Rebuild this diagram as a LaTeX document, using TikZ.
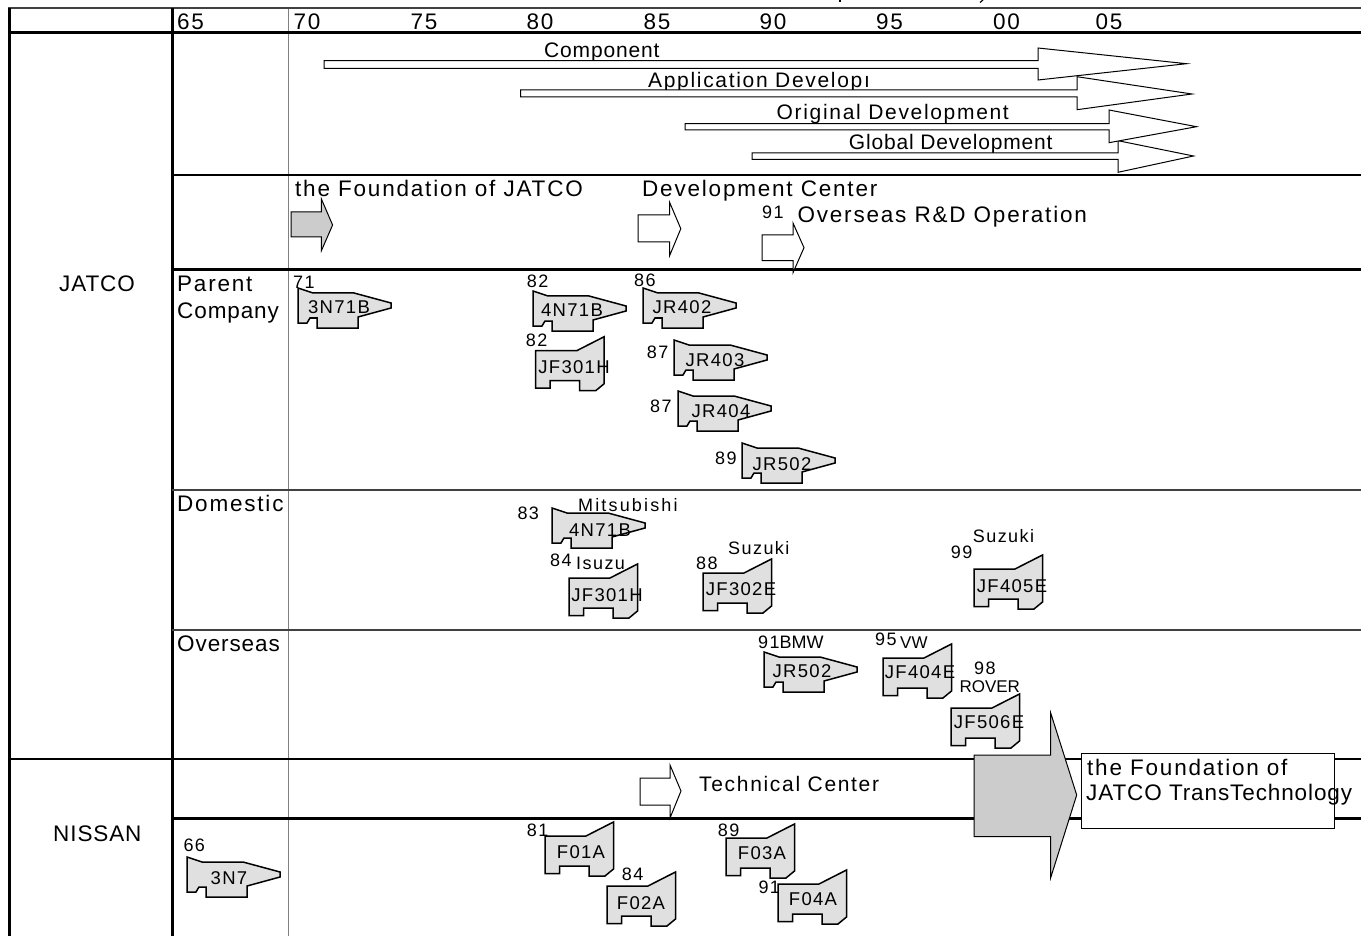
\documentclass[tikz,border=0pt]{standalone}
\usepackage{fontspec}
\setmainfont[LetterSpace=8]{Liberation Sans}
\newfontfamily\modelfont[LetterSpace=7]{Liberation Sans}
\newfontfamily\makerfont{Liberation Sans}
\newfontfamily\tightfont[LetterSpace=4]{Liberation Sans}
\newfontfamily\wideface[LetterSpace=12]{Liberation Sans}
\definecolor{caseGrey}{HTML}{E0E0E0}
\definecolor{arrowGrey}{HTML}{CCCCCC}
\definecolor{yearGrey}{HTML}{808080}
\definecolor{ruleGrey}{HTML}{404040}
\tikzset{
  every node/.style={inner sep=0pt, text=black},
  heavy/.style={line width=3pt},
  mid/.style={line width=2pt},
  light/.style={line width=1.4pt, ruleGrey},
  blockarrow/.style={draw=black, fill=white, line width=1pt},
  greyarrow/.style={draw=black, fill=arrowGrey, line width=1pt},
  big/.style={anchor=base west, font=\fontsize{22.5}{26}\selectfont},
  medium/.style={anchor=base west, font=\fontsize{21}{24}\selectfont},
  small/.style={anchor=base west, font=\fontsize{18}{20}\selectfont},
  maker/.style={anchor=base west, font=\makerfont\fontsize{17}{20}\selectfont},
  model/.style={font=\modelfont\fontsize{18.5}{20}\selectfont},
  rearcase/.pic={
    \draw[fill=caseGrey, line width=1.5pt] (0,0) -- (15,5) -- (56,5) -- (93,15) -- (93,20) -- (60,29) -- (60,40)
      -- (19,40) -- (19,30) -- (12,30) -- (9,35) -- (0,35) -- cycle;
  },
  frontcase/.pic={
    \draw[fill=caseGrey, line width=1.5pt] (0,0) -- (41,0) -- (68.5,-14) -- (68.5,33) -- (60,40) -- (44,40)
      -- (44,30) -- (14.5,30) -- (14.5,37.5) -- (0,37.5) -- cycle;
  },
}

\begin{document}
\begin{tikzpicture}[x=1pt, y=-1pt]

  %% ════ table rules ════
  \draw[yearGrey, line width=1.5pt] (288.5,8) -- (288.5,936);
  \draw[mid, ruleGrey] (8,8) -- (1361,8);
  \draw[heavy] (9.5,8) -- (9.5,936);
  \draw[heavy] (172.5,8) -- (172.5,936);
  \draw[heavy] (9,33) -- (1361,33);
  \draw[mid] (172,175.5) -- (1361,175.5);
  \draw[heavy] (172,270) -- (1361,270);
  \draw[light] (172,490) -- (1361,490);
  \draw[light] (172,630) -- (1361,630);
  \draw[mid] (9,759) -- (1361,759);
  \draw[heavy] (172,818) -- (1361,818);
  % tails of the cut-off title
  \draw[line width=1.2pt] (840,0) -- (840,2);
  \draw[line width=1.2pt] (980,2.5) -- (983,0);

  %% ════ header years ════
  \foreach \yearlabel/\xpos in {65/177, 70/293.5, 75/410.5, 80/526.5, 85/643.5, 90/759.5, 95/876, 00/993, 05/1095.5}
    \node[big] (year\yearlabel) at (\xpos,30) {\yearlabel};

  %% ════ row titles ════
  \node[big] (jatco) at (59,291.7) {\tightfont JATCO};
  \node[big] (nissan) at (53,841.5) {\tightfont NISSAN};
  \node[big] (parent) at (177,291.7) {Parent};
  \node[big] (company) at (177,318.3) {\tightfont Company};
  \node[big] (domestic) at (177,511) {Domestic};
  \node[big] (overseas) at (177,651) {\tightfont Overseas};

  %% ════ development bars ════
  \node[medium] (component) at (544,57.3) {\tightfont Component};
  \node[medium] (application) at (648,87.5) {Application Developı};
  \node[medium] (original) at (776.5,119.3) {Original Development};
  \node[medium] (global) at (848.7,150) {\tightfont Global Development};
  \draw[blockarrow] (752,153) -- (1118,153) -- (1118,140.7) -- (1193.5,156) -- (1118,172.3) -- (1118,159.3) -- (752,159.3) -- cycle;
  \draw[blockarrow] (685,123.7) -- (1109,123.7) -- (1109,110) -- (1196.5,126.7) -- (1109,142.7) -- (1109,130) -- (685,130) -- cycle;
  \draw[blockarrow] (520.5,90) -- (1077,90) -- (1077,76.7) -- (1192,94) -- (1077,109.7) -- (1077,97) -- (520.5,97) -- cycle;
  \draw[blockarrow] (324,60.7) -- (1038,60.7) -- (1038,48) -- (1186.5,63.7) -- (1038,80) -- (1038,68.3) -- (324,68.3) -- cycle;

  %% ════ milestones ════
  \draw[greyarrow] (291,212) -- (321.4,212) -- (321.4,199) -- (332.6,225) -- (321.4,250.7) -- (321.4,237) -- (291,237) -- cycle;
  \draw[blockarrow] (638,215) -- (669.6,215) -- (669.6,202.3) -- (680.8,228.7) -- (669.6,255.7) -- (669.6,242) -- (638,242) -- cycle;
  \draw[blockarrow] (762,235) -- (793,235) -- (793,223) -- (804,247.7) -- (793,272.7) -- (793,260.7) -- (762,260.7) -- cycle;
  \draw[blockarrow] (640,778) -- (670,778) -- (670,765) -- (681,791) -- (670,818) -- (670,805) -- (640,805) -- cycle;
  \node[big] (foundation) at (295,197) {the Foundation of JATCO};
  \node[big] (center) at (642,197) {Development Center};
  \node[small] (year91rd) at (762,218.7) {91};
  \node[big] (rdoperation) at (797.4,222.7) {Overseas R\&D Operation};
  \node[medium] (technical) at (699,791) {Technical Center};

  %% ════ transmission cases ════
  \foreach \xpos/\ypos in {298/288, 533/291, 643/288, 674/340, 678/391, 742/443, 552/508, 764/652, 187/857}
    \pic at (\xpos,\ypos) {rearcase};
  \foreach \xpos/\ypos in {535.7/350.7, 569/578, 703/573, 974/569, 883/658, 951/708, 545/836, 607/886, 726/838, 778/884}
    \pic at (\xpos,\ypos) {frontcase};

  \node[model] (m3n71b) at (339,307) {3N71B};
  \node[model] (m4n71b) at (572,310) {4N71B};
  \node[model] (mjf301h) at (574,367) {JF301H};
  \node[model] (mjr402) at (682,307) {JR402};
  \node[model] (mjr403) at (715,360) {JR403};
  \node[model] (mjr404) at (721,411) {JR404};
  \node[model] (mjr502) at (782,464) {JR502};
  \node[model] (d4n71b) at (600,530) {4N71B};
  \node[model] (djf301h) at (607,595) {JF301H};
  \node[model] (djf302e) at (741,589) {JF302E};
  \node[model] (djf405e) at (1012,586) {JF405E};
  \node[model] (ojr502) at (802,671) {JR502};
  \node[model] (ojf404e) at (920,672) {JF404E};
  \node[model] (ojf506e) at (989,722) {JF506E};
  \node[model] (n3n7) at (229,878) {3N7};
  \node[model] (nf01a) at (581,852) {F01A};
  \node[model] (nf02a) at (641,903) {F02A};
  \node[model] (nf03a) at (762,853) {F03A};
  \node[model] (nf04a) at (813,899) {F04A};

  %% ════ years and makers beside the cases ════
  \node[small] (y71) at (293,288.3) {71};
  \node[small] (y82a) at (526.7,287.7) {82};
  \node[small] (y82b) at (525.7,346.7) {82};
  \node[small] (y86) at (634,286.7) {86};
  \node[small] (y87a) at (646.7,358.3) {87};
  \node[small] (y87b) at (650,412.7) {87};
  \node[small] (y89a) at (715,464) {89};
  \node[small] (y83) at (517.3,519) {83};
  \node[small] (mitsubishi) at (578,511.7) {\wideface Mitsubishi};
  \node[small] (y84a) at (550,566.7) {84};
  \node[small] (isuzu) at (576,569) {Isuzu};
  \node[small] (y88) at (696,569) {88};
  \node[small] (suzukia) at (728,554) {Suzuki};
  \node[small] (y99) at (950.7,558) {99};
  \node[small] (suzukib) at (972.7,542.3) {Suzuki};
  \node[small] (bmw) at (758,648.3) {91\makerfont BMW};
  \node[small] (y95) at (875,645.7) {95};
  \node[maker] (vw) at (900,648.3) {VW};
  \node[small] (y98) at (974,674) {98};
  \node[maker] (rover) at (959.3,692.7) {ROVER};
  \node[small] (y66) at (183.3,851.7) {66};
  \node[small] (y81) at (526.7,836.7) {81};
  \node[small] (y84b) at (621.7,880.7) {84};
  \node[small] (y89b) at (717.7,836.7) {89};
  \node[small] (y91) at (758.3,893.3) {91};

  %% ════ JATCO TransTechnology ════
  \draw[greyarrow] (974,755) -- (1050.7,755) -- (1050.7,713) -- (1076.7,795) -- (1050.7,877.7) -- (1050.7,836.7) -- (974,836.7) -- cycle;
  \node[draw=black, fill=white, line width=1pt, anchor=north west, minimum width=253pt, minimum height=75pt] (newco) at (1081,753) {};
  \node[big] (newcoa) at (1087,775) {the Foundation of};
  \node[big] (newcob) at (1086,800) {\tightfont JATCO TransTechnology};

  \pgfresetboundingbox
  \path[use as bounding box] (0,0) rectangle (1361,936);
\end{tikzpicture}
\end{document}
